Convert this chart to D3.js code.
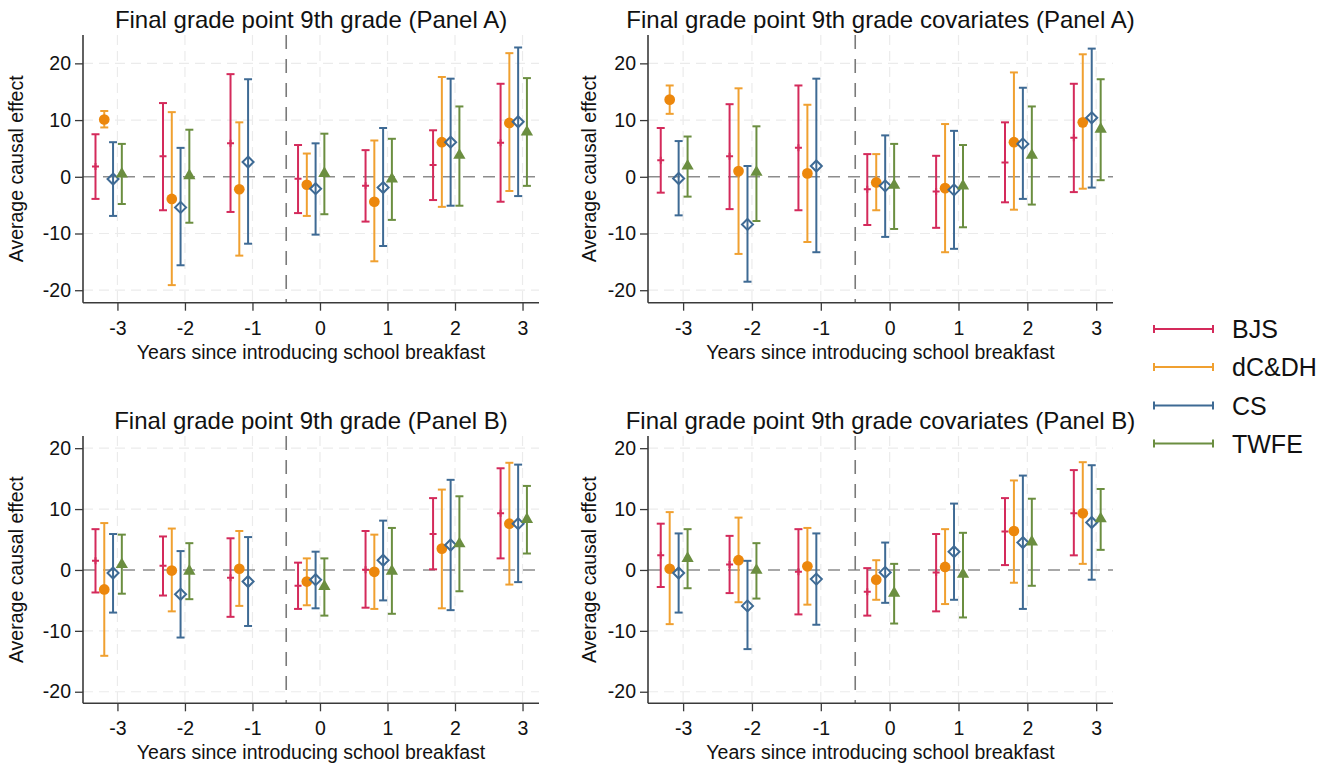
<!DOCTYPE html>
<html>
<head>
<meta charset="utf-8">
<script src="https://cdn.jsdelivr.net/npm/d3@7"></script>
<style>
  body { margin: 0; background: #fff; }
  svg { display: block; font-family: "Liberation Sans", Arial, sans-serif; }
</style>
</head>
<body>
<svg id="chart"></svg>
<script>
/* ---------- data: [estimate, lower, upper] per year ---------- */
const years   = [-3, -2, -1, 0, 1, 2, 3];
const methods = ["BJS", "dC&DH", "CS", "TWFE"];
const yTicks  = [-20, -10, 0, 10, 20];

const titles = [
  "Final grade point 9th grade (Panel A)",
  "Final grade point 9th grade covariates (Panel A)",
  "Final grade point 9th grade (Panel B)",
  "Final grade point 9th grade covariates (Panel B)"
];

// panel A, no covariates
const a_bjs  = [[1.8,-3.9,7.5],[3.6,-5.9,13.0],[5.9,-6.2,18.1],[-0.35,-6.4,5.6],[-1.6,-7.9,4.7],[2.1,-4.1,8.2],[6.0,-4.4,16.4]];
const a_dc   = [[10.1,8.7,11.6],[-3.9,-19.1,11.4],[-2.2,-13.9,9.6],[-1.4,-6.9,4.1],[-4.4,-14.9,6.4],[6.1,-5.3,17.6],[9.5,-2.5,21.8]];
const a_cs   = [[-0.4,-6.9,6.1],[-5.4,-15.6,5.1],[2.6,-11.8,17.2],[-2.1,-10.2,5.9],[-1.9,-12.2,8.6],[6.1,-5.1,17.3],[9.7,-3.4,22.8]];
const a_twfe = [[0.5,-4.8,5.8],[0.2,-8.1,8.3],null,[0.6,-6.6,7.6],[-0.4,-7.6,6.7],[3.8,-5.1,12.4],[7.9,-1.6,17.4]];

// panel A, covariates
const ac_bjs  = [[2.9,-2.8,8.6],[3.6,-5.7,12.8],[5.1,-5.9,16.1],[-2.2,-8.5,4.0],[-2.6,-9.0,3.7],[2.5,-4.5,9.6],[6.9,-2.7,16.4]];
const ac_dc   = [[13.6,11.1,16.1],[1.0,-13.6,15.6],[0.6,-11.5,12.7],[-1.0,-5.9,4.0],[-2.0,-13.3,9.3],[6.1,-5.8,18.4],[9.6,-2.1,21.6]];
const ac_cs   = [[-0.3,-6.8,6.3],[-8.4,-18.5,1.9],[1.9,-13.3,17.3],[-1.6,-10.6,7.3],[-2.3,-12.7,8.1],[5.8,-3.9,15.7],[10.4,-1.9,22.6]];
const ac_twfe = [[1.9,-3.5,7.1],[0.8,-7.8,8.9],null,[-1.5,-9.2,5.8],[-1.6,-8.9,5.6],[3.8,-4.9,12.4],[8.4,-0.6,17.2]];

// panel B, no covariates
const b_bjs  = [[1.5,-3.7,6.7],[0.7,-4.2,5.5],[-1.3,-7.7,5.2],[-2.6,-6.4,1.2],[0.05,-6.2,6.4],[5.9,0.1,11.8],[9.3,1.9,16.7]];
const b_dc   = [[-3.2,-14.1,7.7],[-0.1,-6.8,6.8],[0.2,-5.9,6.4],[-1.9,-5.8,1.9],[-0.3,-6.4,5.8],[3.5,-6.3,13.2],[7.6,-2.4,17.6]];
const b_cs   = [[-0.5,-7.0,5.9],[-4.0,-11.1,3.1],[-1.9,-9.2,5.4],[-1.6,-6.3,3.0],[1.6,-5.0,8.1],[4.1,-6.6,14.8],[7.6,-2.0,17.3]];
const b_twfe = [[0.9,-3.9,5.8],[-0.2,-4.8,4.4],null,[-2.7,-7.5,1.9],[-0.2,-7.2,6.9],[4.3,-3.5,12.1],[8.3,2.7,13.8]];

// panel B, covariates
const bc_bjs  = [[2.4,-2.8,7.6],[0.9,-3.8,5.6],[-0.3,-7.3,6.7],[-3.6,-7.5,0.3],[-0.4,-6.8,5.9],[6.3,0.8,11.8],[9.3,2.4,16.4]];
const bc_dc   = [[0.2,-8.9,9.5],[1.6,-5.3,8.6],[0.6,-5.7,6.9],[-1.6,-4.9,1.6],[0.5,-5.6,6.7],[6.4,-2.1,14.7],[9.3,1.0,17.7]];
const bc_cs   = [[-0.5,-7.0,6.0],[-5.9,-13.0,1.5],[-1.5,-9.0,6.0],[-0.4,-5.4,4.5],[3.0,-4.9,10.9],[4.5,-6.4,15.5],[7.8,-1.6,17.2]];
const bc_twfe = [[1.9,-3.0,6.7],[-0.05,-4.7,4.4],null,[-3.8,-8.8,1.0],[-0.7,-7.8,6.1],[4.6,-2.6,11.7],[8.4,3.3,13.3]];

const panelData = [
  [a_bjs, a_dc, a_cs, a_twfe],
  [ac_bjs, ac_dc, ac_cs, ac_twfe],
  [b_bjs, b_dc, b_cs, b_twfe],
  [bc_bjs, bc_dc, bc_cs, bc_twfe]
];

/* ---------- setup ---------- */
const width = 1335, height = 766;
const svg = d3.select("#chart").attr("width", width).attr("height", height);

const lineColor   = ["#d42a5b", "#f0a030", "#3e6a94", "#6b8e40"];
const markerColor = ["#d42a5b", "#ec870c", "#3e6a94", "#6b8e40"];
const offsets     = [-0.325, -0.195, -0.065, 0.065];

// panel boxes [left, right, top, bottom] and y domains
const boxes = [
  { x0: 83,  x1: 539,  y0: 35,  y1: 302.7, yd: [-22.2, 25] },
  { x0: 648, x1: 1113, y0: 35,  y1: 302.7, yd: [-22.2, 25] },
  { x0: 83,  x1: 539,  y0: 436, y1: 703.3, yd: [-21.9, 22] },
  { x0: 648, x1: 1113, y0: 436, y1: 703.3, yd: [-21.9, 22] }
];
const yTitleX = [16.5, 589.5, 16.5, 589.5];
const plainNum = d => String(d);   // hyphen minus, like the original

boxes.forEach((b, pi) => {
  const x = d3.scaleLinear().domain([-3.51, 3.244]).range([b.x0, b.x1]);
  const y = d3.scaleLinear().domain(b.yd).range([b.y1, b.y0]);
  const g = svg.append("g");

  // grid
  g.append("g").selectAll("line").data(years).join("line")
    .attr("x1", d => x(d)).attr("x2", d => x(d))
    .attr("y1", b.y0).attr("y2", b.y1)
    .attr("stroke", "#ebebeb").attr("stroke-width", 1.2)
    .attr("stroke-dasharray", "10,6");
  g.append("g").selectAll("line").data(yTicks.filter(t => t !== 0)).join("line")
    .attr("x1", b.x0).attr("x2", b.x1)
    .attr("y1", d => y(d)).attr("y2", d => y(d))
    .attr("stroke", "#ebebeb").attr("stroke-width", 1.2)
    .attr("stroke-dasharray", "10,6");

  // reference lines
  g.append("line")
    .attr("x1", b.x0).attr("x2", b.x1).attr("y1", y(0)).attr("y2", y(0))
    .attr("stroke", "#8c8c8c").attr("stroke-width", 1.6)
    .attr("stroke-dasharray", "12,8");
  g.append("line")
    .attr("x1", x(-0.5)).attr("x2", x(-0.5)).attr("y1", b.y0).attr("y2", b.y1)
    .attr("stroke", "#7a7a7a").attr("stroke-width", 1.6)
    .attr("stroke-dasharray", "14,10");

  // axes
  const xAxis = g.append("g").attr("transform", `translate(0,${b.y1})`)
    .call(d3.axisBottom(x).tickValues(years).tickFormat(plainNum)
      .tickSize(8).tickPadding(10).tickSizeOuter(0));
  const yAxis = g.append("g").attr("transform", `translate(${b.x0},0)`)
    .call(d3.axisLeft(y).tickValues(yTicks).tickFormat(plainNum)
      .tickSize(8).tickPadding(4).tickSizeOuter(0));
  [xAxis, yAxis].forEach(a => {
    a.select(".domain").attr("stroke", "#3a3a3a").attr("stroke-width", 1.6)
      .attr("d", a === xAxis ? `M${b.x0},0H${b.x1}` : `M0,${b.y0}V${b.y1}`);
    a.selectAll(".tick line").attr("stroke", "#3a3a3a").attr("stroke-width", 1.3);
    a.selectAll(".tick text").attr("fill", "#111").attr("font-size", 19.5)
      .attr("font-family", "Liberation Sans, Arial, sans-serif");
  });

  // titles
  g.append("text")
    .attr("x", (b.x0 + b.x1) / 2).attr("y", b.y0 - 7)
    .attr("text-anchor", "middle").attr("font-size", 24).attr("fill", "#111")
    .text(titles[pi]);
  g.append("text")
    .attr("x", (b.x0 + b.x1) / 2).attr("y", b.y1 + 56)
    .attr("text-anchor", "middle").attr("font-size", 19.5).attr("fill", "#111")
    .text("Years since introducing school breakfast");
  g.append("text")
    .attr("transform", `translate(${yTitleX[pi]},${(b.y0 + b.y1) / 2}) rotate(-90)`)
    .attr("text-anchor", "middle").attr("dy", "0.35em")
    .attr("font-size", 19.5).attr("fill", "#111")
    .text("Average causal effect");

  // error bars + markers
  panelData[pi].forEach((series, mi) => {
    const pts = series.map((v, i) => v ? { t: years[i], est: v[0], lo: v[1], hi: v[2] } : null)
      .filter(d => d);
    const sg = g.append("g");
    const cx = d => x(d.t + offsets[mi]);
    sg.selectAll("line.bar").data(pts).join("line").attr("class", "bar")
      .attr("x1", cx).attr("x2", cx).attr("y1", d => y(d.lo)).attr("y2", d => y(d.hi))
      .attr("stroke", lineColor[mi]).attr("stroke-width", 2);
    ["lo", "hi"].forEach(k => {
      sg.selectAll("line.cap" + k).data(pts).join("line").attr("class", "cap" + k)
        .attr("x1", d => cx(d) - 4).attr("x2", d => cx(d) + 4)
        .attr("y1", d => y(d[k])).attr("y2", d => y(d[k]))
        .attr("stroke", lineColor[mi]).attr("stroke-width", 2);
    });
    const m = sg.selectAll("path.mk").data(pts).join("path").attr("class", "mk")
      .attr("transform", d => `translate(${cx(d)},${y(d.est)})`);
    if (mi === 0) {
      m.attr("d", "M-3.5,0H3.5M0,-3.5V3.5").attr("stroke", markerColor[mi]).attr("stroke-width", 2);
    } else if (mi === 1) {
      m.attr("d", d3.symbol(d3.symbolCircle, 90)()).attr("fill", markerColor[mi]);
    } else if (mi === 2) {
      m.attr("d", "M0,-5.5L5.5,0L0,5.5L-5.5,0Z").attr("fill", "none")
        .attr("stroke", markerColor[mi]).attr("stroke-width", 2);
    } else {
      m.attr("d", d3.symbol(d3.symbolTriangle, 65)()).attr("fill", markerColor[mi]);
    }
  });
});

/* ---------- legend ---------- */
const legendY = [329, 367, 405.5, 443.5];
const legend = svg.append("g");
methods.forEach((name, i) => {
  const lg = legend.append("g").attr("transform", `translate(1153,${legendY[i]})`);
  lg.append("path")
    .attr("d", "M0,0H61M1,-4V4M60,-4V4")
    .attr("stroke", lineColor[i]).attr("stroke-width", 2).attr("fill", "none");
  lg.append("text").attr("x", 79).attr("dy", "0.36em")
    .attr("font-size", 25).attr("fill", "#111").text(name);
});
</script>
</body>
</html>
